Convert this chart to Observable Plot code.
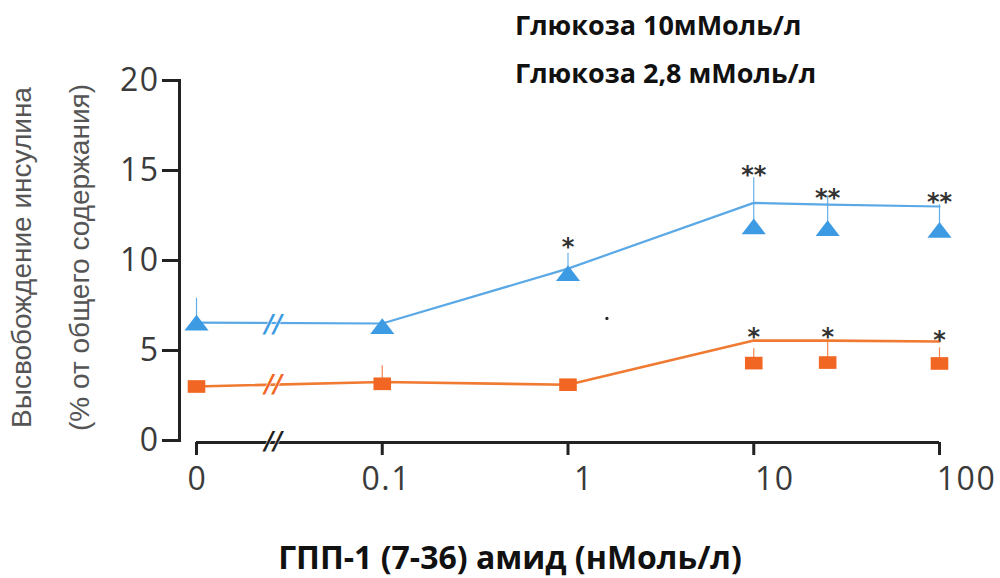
<!DOCTYPE html>
<html>
<head>
<meta charset="utf-8">
<script src="https://cdn.jsdelivr.net/npm/d3@7"></script>
<script src="https://cdn.jsdelivr.net/npm/@observablehq/plot@0.6"></script>
<style>
  html, body { margin: 0; padding: 0; background: #fff; }
  #wrap { position: relative; width: 1000px; height: 578px; overflow: hidden; }
  .leg { position: absolute; left: 515px; font-family: "Open Sans", "Noto Sans", sans-serif; font-weight: 700; font-size: 27px; color: #111; line-height: 1; white-space: nowrap; }
  #xtitle { position: absolute; left: 0; width: 1000px; box-sizing: border-box; padding-left: 20px; text-align: center; top: 541px; font-family: "Open Sans", "Noto Sans", sans-serif; font-weight: 700; font-size: 32px; color: #111; line-height: 1; white-space: nowrap; }
</style>
</head>
<body>
<div id="wrap">
  <div id="chart"></div>
  <div class="leg" style="top:11px">Глюкоза 10мМоль/л</div>
  <div class="leg" style="top:59px">Глюкоза 2,8 мМоль/л</div>
  <div id="xtitle">ГПП-1 (7-36) амид (нМоль/л)</div>
</div>
<script>
// ---- data ----
const doses = [0, 0.1, 1, 10, 25, 100];             // nM (0 drawn one decade below 0.1)
const xTicks = [0, 0.1, 1, 10, 100];
const xTickLabels = ["0", "0.1", "1", "10", "100"];
const yTicks = [0, 5, 10, 15, 20];

// Glucose 10 mM (blue, triangles)
const g10Line   = [6.55, 6.5, 9.55, 13.2, 13.1, 13.0];
const g10Marker = [6.55, 6.35, 9.3, 11.9, 11.8, 11.7];
const g10ErrTop = [7.9, 6.5, 10.4, 14.6, 13.6, 13.1];
const g10Stars  = ["", "", "*", "**", "**", "**"];
const g10StarY  = [null, null, 11.2, 15.2, 13.9, 13.7];

// Glucose 2.8 mM (orange, squares)
const g28Line   = [3.0, 3.25, 3.1, 5.55, 5.55, 5.5];
const g28Marker = [3.0, 3.15, 3.1, 4.3, 4.33, 4.28];
const g28ErrTop = [3.0, 4.15, 3.1, 5.1, 5.5, 5.15];
const g28Stars  = ["", "", "", "*", "*", "*"];
const g28StarY  = [null, null, null, 6.15, 6.2, 6.0];

const breakDose = 0.026;       // axis break between 0 and 0.1
const strayDot = [{x: 1.62, y: 6.78}];

const yLabel1 = "Высвобождение инсулина";
const yLabel2 = "(% от общего содержания)";

// ---- build ----
const pos = d => d === 0 ? 0.01 : d;
const blue = "#3d9be3", blueLine = "#5aa9e6";
const orange = "#f26624", orangeLine = "#f07a32";

const mk = (line, marker, err, stars, starY) => doses.map((d, i) => ({
  x: pos(d), line: line[i], marker: marker[i], err: err[i], star: stars[i], starY: starY[i]
}));
const s10 = mk(g10Line, g10Marker, g10ErrTop, g10Stars, g10StarY);
const s28 = mk(g28Line, g28Marker, g28ErrTop, g28Stars, g28StarY);

const flatTriangle = {
  draw(ctx, size) {
    const w = Math.sqrt(size) * 0.85, h = w * 0.65;
    ctx.moveTo(0, -h); ctx.lineTo(w, h); ctx.lineTo(-w, h); ctx.closePath();
  }
};
const flatSquare = {
  draw(ctx, size) {
    const w = Math.sqrt(size) * 0.62, h = w * 0.72;
    ctx.rect(-w, -h, 2 * w, 2 * h);
  }
};

const breaks = [
  {x: breakDose, y: 6.5, c: blue},
  {x: breakDose, y: 3.15, c: orange},
  {x: breakDose, y: 0, c: "#222"}
];

const starFont = "DejaVu Sans, sans-serif";
// tick labels in the original drift slightly to the right of their ticks
const labelShift = [1, 4, 16, 21, 27];

const xLabelAxes = xTicks.map((t, i) => Plot.axisX({
  ticks: [pos(t)], tickFormat: () => xTickLabels[i], tickSize: 0, tickPadding: 25,
  fontSize: 32, fill: "#3a3a3a", label: null, dx: labelShift[i], dy: 2
}));

const chart = Plot.plot({
  width: 1000,
  height: 578,
  marginTop: 80,
  marginBottom: 138,
  marginLeft: 179,
  marginRight: 61,
  style: {fontFamily: "'Open Sans', 'Noto Sans', sans-serif", background: "#fff"},
  x: {type: "log", domain: [0.01, 100], range: [196, 939]},
  y: {domain: [0, 20]},
  marks: [
    Plot.frame({anchor: "left", stroke: "#222", strokeWidth: 3}),
    Plot.ruleY([{y: 0, x1: 0.01, x2: 100}], {y: "y", x1: "x1", x2: "x2", stroke: "#222", strokeWidth: 3, dy: 2}),
    Plot.axisY({ticks: yTicks, tickSize: 17, tickPadding: 3, fontSize: 32, strokeWidth: 3, stroke: "#222", fill: "#3a3a3a", label: null}),
    Plot.axisX({ticks: xTicks.map(pos), tickFormat: () => "", tickSize: 13, strokeWidth: 3, stroke: "#222", label: null, dy: 2}),
    ...xLabelAxes,
    // y title
    Plot.text([yLabel1], {frameAnchor: "left", dx: -157, dy: -3, rotate: -90, textAnchor: "middle", fontSize: 28, fill: "#555", fontFamily: "'Liberation Sans', sans-serif"}),
    Plot.text([yLabel2], {frameAnchor: "left", dx: -99, dy: -3, rotate: -90, textAnchor: "middle", fontSize: 28, fill: "#555", fontFamily: "'Liberation Sans', sans-serif"}),
    // error stems
    Plot.ruleX(s10, {x: "x", y1: "marker", y2: "err", stroke: blue, strokeWidth: 1.2, strokeOpacity: 0.8}),
    Plot.ruleX(s28, {x: "x", y1: "marker", y2: "err", stroke: orange, strokeWidth: 1.2, strokeOpacity: 0.8}),
    // lines
    Plot.line(s10, {x: "x", y: "line", stroke: blueLine, strokeWidth: 2.2}),
    Plot.line(s28, {x: "x", y: "line", stroke: orangeLine, strokeWidth: 2.6}),
    // markers
    Plot.dot(s10, {x: "x", y: "marker", symbol: flatTriangle, r: 8, fill: blue, stroke: "none"}),
    Plot.dot(s28, {x: "x", y: "marker", symbol: flatSquare, r: 8, fill: orange, stroke: "none"}),
    // axis breaks
    Plot.text(breaks, {x: "x", y: "y", text: () => "//", fill: "c", fontSize: 24, fontWeight: "bold", fontStyle: "italic", fontFamily: starFont, dy: 1, stroke: "white", strokeWidth: 1}),
    // significance stars
    Plot.text(s10.filter(d => d.star), {x: "x", y: "starY", text: "star", fontSize: 24, fill: "#333", fontFamily: starFont, dy: 8, fontWeight: "bold"}),
    Plot.text(s28.filter(d => d.star), {x: "x", y: "starY", text: "star", fontSize: 24, fill: "#333", fontFamily: starFont, dy: 8, fontWeight: "bold"}),
    Plot.dot(strayDot, {x: "x", y: "y", r: 1.6, fill: "#222"})
  ]
});
// widen the tick-label lettering like the original
d3.select(chart).selectAll('g[aria-label="y-axis tick label"] text, g[aria-label="x-axis tick label"] text')
  .attr("letter-spacing", "1.5px");
document.getElementById("chart").appendChild(chart);
</script>
</body>
</html>
